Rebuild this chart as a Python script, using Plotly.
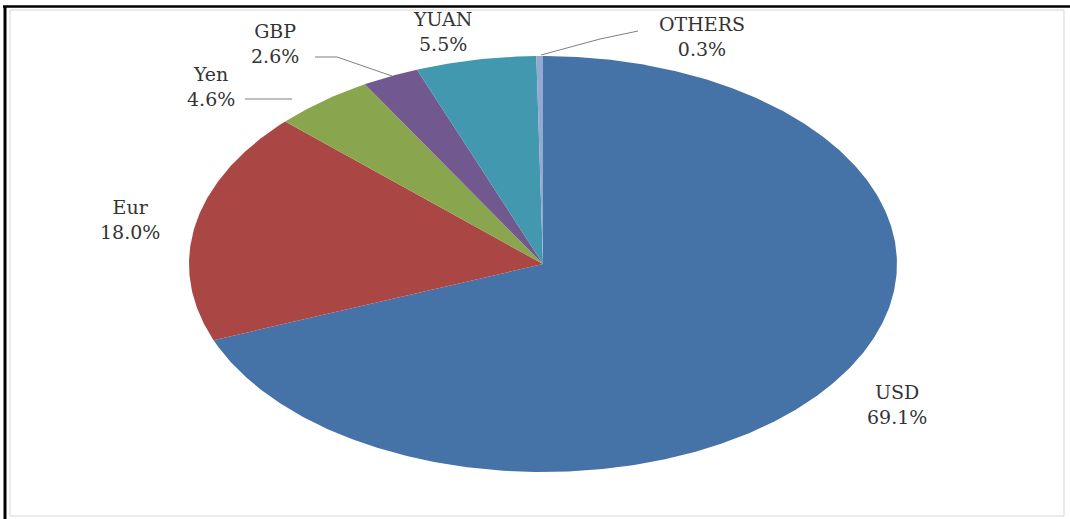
import numpy as np
import plotly.graph_objects as go

# ---- data ----
currencies = ["USD", "Eur", "Yen", "GBP", "YUAN", "OTHERS"]
shares = [69.1, 18.0, 4.6, 2.6, 5.5, 0.3]

# ---- styles / layout constants ----
colors = ["#4572A7", "#AA4643", "#89A54E", "#71588F", "#4198AF", "#93A9CF"]
W, H = 1070, 519
CX, CY, RX, RY = 543, 264, 354, 208          # ellipse of the (stretched) pie, pixels
label_pos = {                                 # label centres, pixels
    "USD": (897, 404), "Eur": (130, 219), "Yen": (211, 86),
    "GBP": (275, 43), "YUAN": (442, 31), "OTHERS": (702, 36),
}
leaders = {
    "Yen": [(245, 99), (292, 99)],
    "GBP": [(315, 57), (337, 57), (392, 76)],
    "OTHERS": [(541, 55), (600, 39), (638, 31)],
}
FONT = dict(family="DejaVu Serif", size=19, color="#333333")

fig = go.Figure()

total = float(sum(shares))
start = 0.0
for name, val, col in zip(currencies, shares, colors):
    frac = val / total
    a0, a1 = start * 2 * np.pi, (start + frac) * 2 * np.pi
    n = max(3, int(frac * 720))
    th = np.linspace(a0, a1, n)
    xs = np.concatenate([[CX], CX + RX * np.sin(th), [CX]])
    ys = np.concatenate([[CY], CY - RY * np.cos(th), [CY]])
    fig.add_trace(go.Scatter(
        x=xs, y=ys, mode="lines", fill="toself", fillcolor=col,
        line=dict(width=0, color=col), name=name, hoveron="fills",
        text=f"{name}: {val:.1f}%", hoverinfo="text", showlegend=False))
    start += frac

for name, val in zip(currencies, shares):
    x, y = label_pos[name]
    fig.add_annotation(x=x, y=y, xref="x", yref="y", text=f"{name}<br>{val:.1f}%",
                       showarrow=False, font=FONT, align="center",
                       xanchor="center", yanchor="middle")

for name, pts in leaders.items():
    fig.add_trace(go.Scatter(x=[p[0] for p in pts], y=[p[1] for p in pts], mode="lines",
                             line=dict(color="#7f7f7f", width=1), hoverinfo="skip",
                             showlegend=False))

shapes = [
    dict(type="rect", xref="x", yref="y", x0=10, y0=10, x1=1064, y1=516,
         line=dict(color="#d6d6d6", width=1)),
    dict(type="line", xref="x", yref="y", x0=3, y0=6.5, x1=1070, y1=6.5,
         line=dict(color="#000000", width=2.5)),
    dict(type="line", xref="x", yref="y", x0=5, y0=6, x1=5, y1=519,
         line=dict(color="#000000", width=3)),
]

fig.update_layout(
    width=W, height=H, margin=dict(l=0, r=0, t=0, b=0),
    paper_bgcolor="white", plot_bgcolor="white", shapes=shapes,
    xaxis=dict(range=[0, W], visible=False, fixedrange=True),
    yaxis=dict(range=[H, 0], visible=False, fixedrange=True),
)

fig.write_html("out.html")
